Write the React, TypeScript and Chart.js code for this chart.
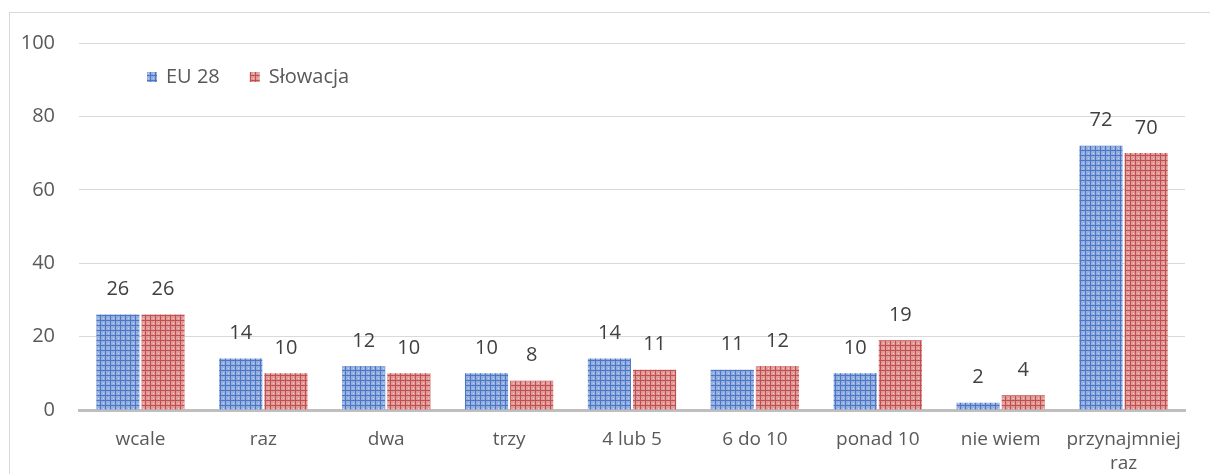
import React, { useEffect, useRef } from "react";
import { Chart, registerables } from "chart.js";

Chart.register(...registerables);

const categories: (string | string[])[] = [
  "wcale",
  "raz",
  "dwa",
  "trzy",
  "4 lub 5",
  "6 do 10",
  "ponad 10",
  "nie wiem",
  ["przynajmniej", "raz"],
];
const eu28 = [26, 14, 12, 10, 14, 11, 10, 2, 72];
const slowacja = [26, 10, 10, 8, 11, 12, 19, 4, 70];
const seriesLabels = ["EU 28", "Słowacja"];
const yTicks = { min: 0, max: 100, step: 20 };

const FONT = "'Open Sans', 'Noto Sans', sans-serif";

function makePattern(bg: string, line: string, dot: string): CanvasPattern | string {
  const c = document.createElement("canvas");
  c.width = 5;
  c.height = 5;
  const g = c.getContext("2d");
  if (!g) return bg;
  g.fillStyle = bg;
  g.fillRect(0, 0, 5, 5);
  g.fillStyle = line;
  g.fillRect(0, 0, 5, 1);
  g.fillRect(0, 0, 1, 5);
  g.fillStyle = dot;
  g.fillRect(3, 3, 1, 1);
  const p = g.createPattern(c, "repeat");
  return p || bg;
}

const framePlugin = {
  id: "frame",
  beforeDraw(chart: any) {
    const ctx = chart.ctx;
    ctx.save();
    ctx.fillStyle = "#ffffff";
    ctx.fillRect(0, 0, chart.width, chart.height);
    ctx.strokeStyle = "#D9D9D9";
    ctx.lineWidth = 1;
    ctx.strokeRect(9.5, 12.5, 1210, 480);
    ctx.restore();
  },
};

const labelsPlugin = {
  id: "valueLabels",
  afterDatasetsDraw(chart: any) {
    const ctx = chart.ctx;
    ctx.save();
    ctx.font = `20px ${FONT}`;
    ctx.fillStyle = "#404040";
    ctx.textAlign = "center";
    ctx.textBaseline = "middle";
    chart.data.datasets.forEach((ds: any, i: number) => {
      const meta = chart.getDatasetMeta(i);
      meta.data.forEach((bar: any, j: number) => {
        ctx.fillText(String(ds.data[j]), bar.x, bar.y - 25);
      });
    });
    ctx.restore();
  },
};

const legendPlugin = {
  id: "customLegend",
  afterDraw(chart: any) {
    const ctx = chart.ctx;
    ctx.save();
    ctx.font = `20px ${FONT}`;
    ctx.textBaseline = "middle";
    let x = 147;
    const y = 77;
    chart.data.datasets.forEach((ds: any) => {
      ctx.fillStyle = ds.backgroundColor;
      ctx.fillRect(x, y - 5, 10, 10);
      ctx.fillStyle = "#595959";
      ctx.textAlign = "left";
      ctx.fillText(ds.label, x + 19, y);
      x += 19 + ctx.measureText(ds.label).width + 30;
    });
    ctx.restore();
  },
};

export default function App() {
  const ref = useRef<HTMLCanvasElement | null>(null);
  useEffect(() => {
    if (!ref.current) return;
    const blue = makePattern("#93AEDF", "#4A76C4", "#C8D6EF");
    const red = makePattern("#E09A99", "#C0504D", "#F0CCCB");
    const chart = new Chart(ref.current, {
      type: "bar",
      data: {
        labels: categories,
        datasets: [
          { label: seriesLabels[0], data: eu28, backgroundColor: blue as any, categoryPercentage: 0.735, barPercentage: 0.955 },
          { label: seriesLabels[1], data: slowacja, backgroundColor: red as any, categoryPercentage: 0.735, barPercentage: 0.955 },
        ],
      },
      options: {
        animation: false,
        responsive: false,
        maintainAspectRatio: false,
        layout: { padding: { top: 43, right: 25, bottom: 0, left: 0 } },
        plugins: { legend: { display: false }, tooltip: { enabled: false } },
        scales: {
          x: {
            grid: { display: false },
            border: { display: true, color: "#BFBFBF", width: 3 },
            ticks: { color: "#595959", font: { family: FONT, size: 19, lineHeight: 1.25 }, padding: 10, maxRotation: 0, autoSkip: false },
            afterFit(scale: any) {
              scale.height = 64;
            },
          },
          y: {
            min: yTicks.min,
            max: yTicks.max,
            ticks: { stepSize: yTicks.step, color: "#595959", font: { family: FONT, size: 20 }, padding: 24 },
            grid: { color: "#D9D9D9", lineWidth: 1, drawTicks: false },
            border: { display: false },
            afterFit(scale: any) {
              scale.width = 79;
            },
          },
        },
      },
      plugins: [framePlugin, labelsPlugin, legendPlugin],
    });
    return () => chart.destroy();
  }, []);
  return (
    <div style={{ position: "absolute", left: 0, top: 0, width: 1210, height: 474 }}>
      <canvas ref={ref} width={1210} height={474} style={{ display: "block" }} />
    </div>
  );
}
